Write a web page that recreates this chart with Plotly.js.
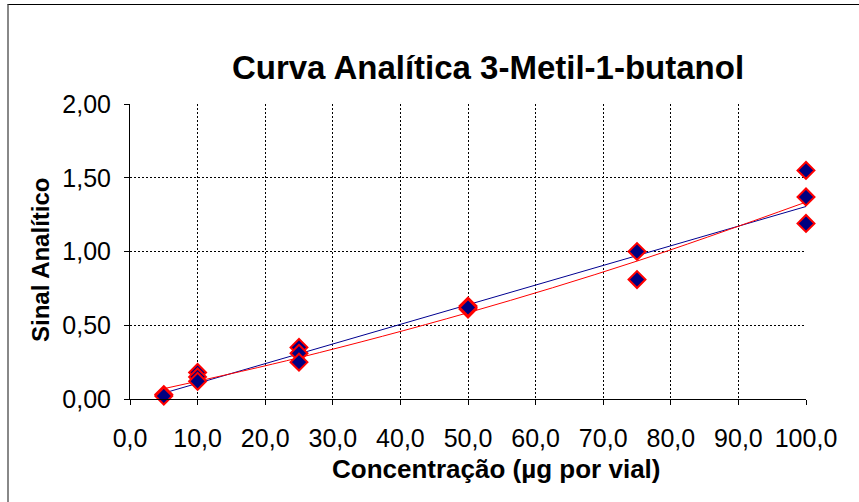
<!DOCTYPE html>
<html>
<head>
<meta charset="utf-8">
<script src="https://cdn.plot.ly/plotly-3.0.1.min.js"></script>
<style>
  html, body { margin: 0; padding: 0; background: #fff; }
  #wrap { position: relative; width: 859px; height: 502px; }
  #chart { width: 859px; height: 502px; }
  #frame { position: absolute; left: 7px; top: 4px; right: 0; bottom: 0;
           border-top: 1px solid #000; border-left: 2px solid #888; pointer-events: none; }
</style>
</head>
<body>
<div id="wrap"><div id="chart"></div><div id="frame"></div></div>
<script>
// Measured points
const concentration = [5, 5, 10, 10, 10, 25, 25, 25, 50, 50, 50, 75, 75, 100, 100, 100];
const signal =        [0.03, 0.02, 0.18, 0.15, 0.12, 0.35, 0.31, 0.25, 0.63, 0.61, 0.62, 1.00, 0.81, 1.55, 1.37, 1.19];

// Linear trend line
const linearX = [5, 100];
const linearY = [0.04, 1.305];

// Polynomial trend line
const polyX = [5, 25, 50, 75, 100];
const polyY = [0.07, 0.28, 0.585, 0.935, 1.335];

const xTicks = [0, 10, 20, 30, 40, 50, 60, 70, 80, 90, 100];
const yTicks = [0, 0.5, 1, 1.5, 2];

const font = "Liberation Sans, Arial, sans-serif";

const traces = [
  { x: linearX, y: linearY, mode: 'lines', type: 'scatter',
    line: { color: '#000090', width: 1 }, hoverinfo: 'skip', showlegend: false, cliponaxis: false },
  { x: polyX, y: polyY, mode: 'lines', type: 'scatter',
    line: { color: '#FF0000', width: 1, shape: 'spline' }, hoverinfo: 'skip', showlegend: false, cliponaxis: false },
  { x: concentration, y: signal, mode: 'markers', type: 'scatter', cliponaxis: false,
    marker: { symbol: 'diamond', size: 13, color: '#000080', line: { color: '#FF0000', width: 2 } },
    showlegend: false }
];

const layout = {
  width: 859, height: 502,
  margin: { l: 130, r: 53, t: 104, b: 103 },
  paper_bgcolor: '#fff', plot_bgcolor: '#fff',
  separators: ',.',
  font: { family: font, color: '#000', size: 22 },
  showlegend: false,
  xaxis: {
    range: [0, 100], tickvals: xTicks, tickformat: '.1f',
    showgrid: true, gridcolor: '#000', gridwidth: 1, griddash: '2px,2px',
    showline: true, linecolor: '#000', linewidth: 1,
    ticks: 'outside', ticklen: 5, tickcolor: '#000', ticklabelstandoff: 12,
    zeroline: false, tickfont: { family: font, size: 25 }
  },
  yaxis: {
    range: [0, 2], tickvals: yTicks, tickformat: '.2f',
    showgrid: true, gridcolor: '#000', gridwidth: 1, griddash: '2px,2px',
    showline: true, linecolor: '#000', linewidth: 1,
    ticks: 'outside', ticklen: 5, tickcolor: '#000', ticklabelstandoff: 8,
    zeroline: false, tickfont: { family: font, size: 25 }
  },
  title: {
    text: '<b>Curva Analítica 3-Metil-1-butanol</b>',
    font: { family: font, size: 33, color: '#000' },
    x: 488 / 859, xanchor: 'center', xref: 'container',
    y: 1 - 67 / 502, yanchor: 'middle', yref: 'container'
  },
  annotations: [
    { text: '<b>Concentração (µg por vial)</b>', xref: 'paper', yref: 'paper',
      x: (496 - 130) / 676, y: -(469 - 399) / 295, xanchor: 'center', yanchor: 'middle',
      showarrow: false, font: { family: font, size: 26, color: '#000' } },
    { text: '<b>Sinal Analítico</b>', xref: 'paper', yref: 'paper', textangle: -90,
      x: -(130 - 40) / 676, y: (399 - 260) / 295, xanchor: 'center', yanchor: 'middle',
      showarrow: false, font: { family: font, size: 24, color: '#000' } }
  ]
};

Plotly.newPlot('chart', traces, layout, { displayModeBar: false, staticPlot: true });
</script>
</body>
</html>
